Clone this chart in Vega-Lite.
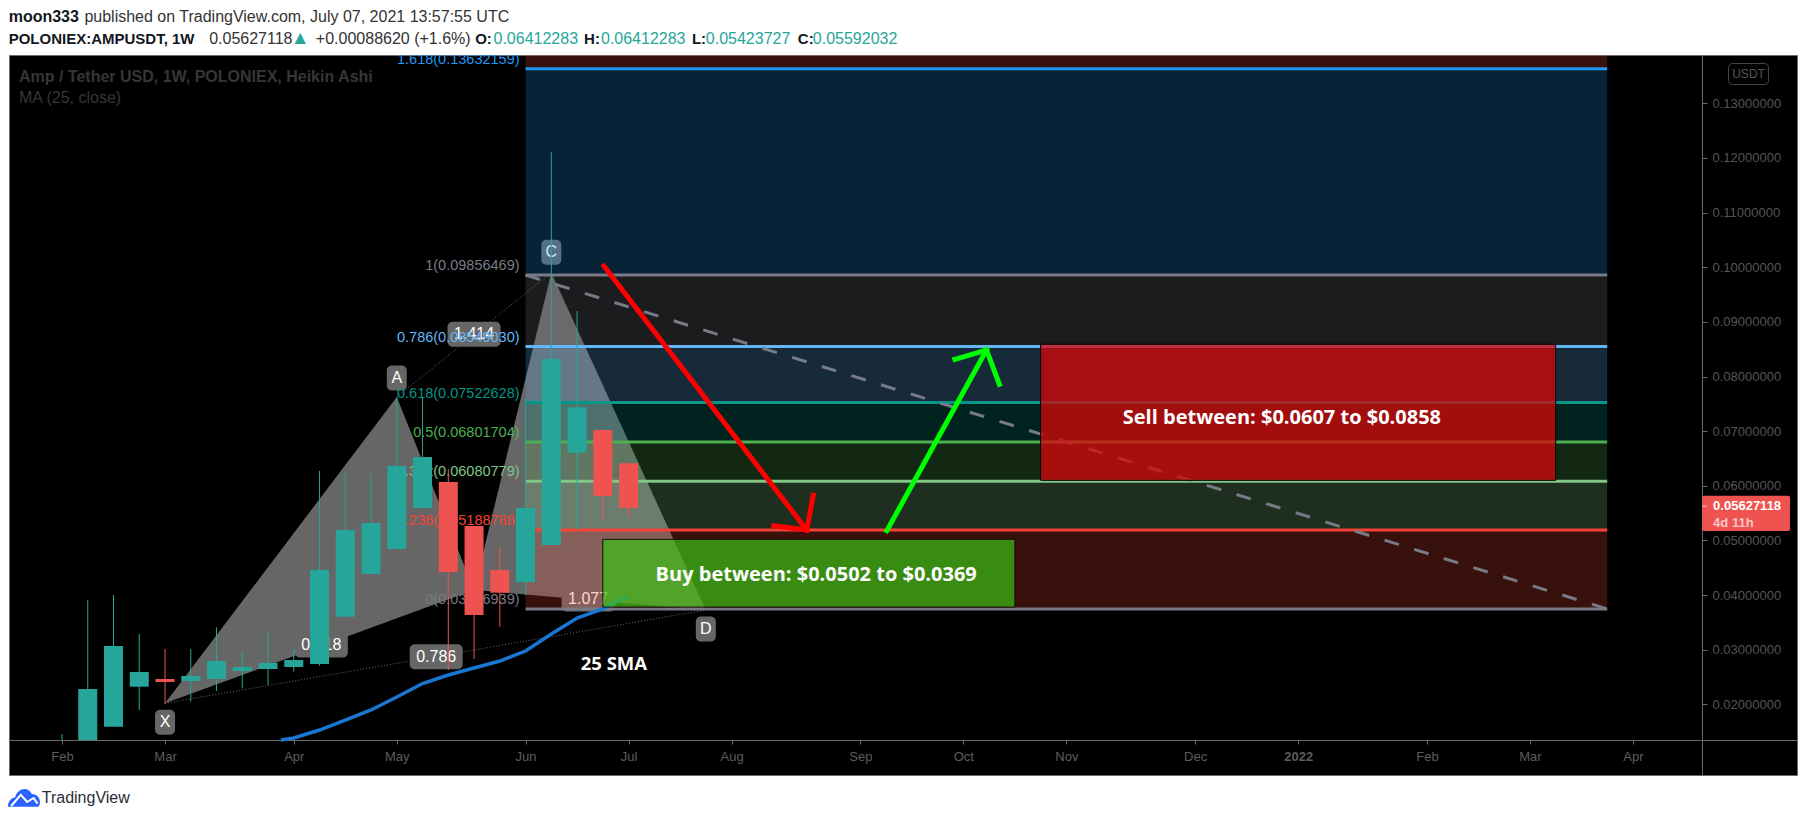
{
"$schema":"https://vega.github.io/schema/vega-lite/v6.json",
"width":1788,"height":720,
"autosize":"none",
"padding":{"left":9,"top":55,"right":8,"bottom":47},
"background":"#ffffff",
"view":{"fill":"#000000","stroke":"#6a6a6a"},
"config":{"font":"Liberation Sans","text":{"font":"Liberation Sans"}},
"encoding":{
 "x":{"field":"date","type":"temporal","scale":{"type":"utc","nice":false,"padding":0,"domain":[1610892921600,1652882976000]},
  "axis":{"orient":"bottom","offset":-35,"title":null,"grid":false,"domainColor":"#6a6a6a","tickColor":"#6a6a6a","tickSize":4,"labelPadding":6,"labelFont":"Liberation Sans","labelFontSize":13,"labelColor":"#5d5d5d","labelOverlap":false,"labelFlush":false,
   "values":[1612137600000,1614556800000,1617580800000,1620000000000,1623024000000,1625443200000,1627862400000,1630886400000,1633305600000,1635724800000,1638748800000,1641168000000,1644192000000,1646611200000,1649030400000],
   "labelExpr":"utcmonth(datum.value)===0?utcFormat(datum.value,'%Y'):utcFormat(datum.value,'%b')",
   "labelFontWeight":{"condition":{"test":"utcmonth(datum.value)===0","value":"bold"},"value":"normal"}}},
 "y":{"field":"price","type":"quantitative","scale":{"domain":[0.00707,0.13884],"nice":false,"zero":false},
  "axis":{"orient":"right","offset":-95,"title":null,"grid":false,"domainColor":"#6a6a6a","tickColor":"#6a6a6a","tickSize":5,"labelPadding":5,"labelFont":"Liberation Sans","labelFontSize":13,"labelColor":"#555555","format":".8f","labelOverlap":false,"labelFlush":false,
   "values":[0.02,0.03,0.04,0.05,0.06,0.07,0.08,0.09,0.10,0.11,0.12,0.13]}},
 "color":{"field":"level","type":"nominal","legend":null,"scale":{"domain":["2.618","1.618","1","0.786","0.618","0.5","0.382","0.236","0","up","down"],"range":["#f44336","#2196f3","#787b86","#64b5f6","#009688","#4caf50","#81c784","#f44336","#787b86","#26a69a","#ef5350"]}}
},
"layer":[
 {"data":{"values":[{"date":"2021-03-01","price":0.0202,"price2":0.0202,"leg":"XAB"},{"date":"2021-05-03","price":0.07625,"price2":0.03575,"leg":"XAB"},{"date":"2021-05-24","price":0.04093,"price2":0.04093,"leg":"XAB"},{"date":"2021-05-24","price":0.04093,"price2":0.04093,"leg":"BCD"},{"date":"2021-06-14","price":0.0990,"price2":0.03971,"leg":"BCD"},{"date":"2021-07-26","price":0.03727,"price2":0.03727,"leg":"BCD"}],"format":{"parse":{"date":"date"}}},
  "mark":{"type":"area","color":"#666666","line":false,"opacity":1},
  "encoding":{"y2":{"field":"price2"},"detail":{"field":"leg"},"color":{"value":"#666666"}}},
 {"data":{"values":[{"date":"2021-03-01","price":0.0202,"date2":"2021-07-26","price2":0.03727},{"date":"2021-05-03","price":0.07625,"date2":"2021-06-14","price2":0.0990}],"format":{"parse":{"date":"date","date2":"date"}}},
  "mark":{"type":"rule","strokeDash":[1,2],"strokeWidth":1},
  "encoding":{"x2":{"field":"date2"},"y2":{"field":"price2"},"color":{"value":"#6a6a6a"}}},
 {"data":{"values":[{"date":"2021-05-03","price":0.07973,"label":"A"},{"date":"2021-06-14","price":0.10273,"label":"C"},{"date":"2021-03-01","price":0.01671,"label":"X"},{"date":"2021-07-26","price":0.03379,"label":"D"}],"format":{"parse":{"date":"date"}}},
  "layer":[
   {"mark":{"type":"rect","width":20,"height":25,"cornerRadius":5},"encoding":{"color":{"value":"#666666"}}},
   {"mark":{"type":"text","fontSize":16,"baseline":"middle","align":"center"},"encoding":{"text":{"field":"label"},"color":{"value":"#ffffff"}}}
  ]},
 {"data":{"values":[{"date":"2021-05-24","price":0.08772,"label":"1.414"},{"date":"2021-04-12T12:00:00Z","price":0.03086,"label":"0.618"},{"date":"2021-05-13T17:00:00Z","price":0.02872,"label":"0.786"},{"date":"2021-06-24","price":0.03928,"label":"1.077"}],"format":{"parse":{"date":"date"}}},
  "layer":[
   {"mark":{"type":"rect","width":53,"height":25,"cornerRadius":5},"encoding":{"color":{"value":"#666666"}}},
   {"mark":{"type":"text","fontSize":16,"baseline":"middle","align":"center"},"encoding":{"text":{"field":"label"},"color":{"value":"#ffffff"}}}
  ]},
 {"data":{"values":[
   {"level":"2.618","date":"2021-06-07","date2":"2022-03-28","price":0.13884,"price2":0.13632159,"label":""},
   {"level":"1.618","date":"2021-06-07","date2":"2022-03-28","price":0.13632159,"price2":0.09856469,"label":"1.618(0.13632159)"},
   {"level":"1","date":"2021-06-07","date2":"2022-03-28","price":0.09856469,"price2":0.0854903,"label":"1(0.09856469)"},
   {"level":"0.786","date":"2021-06-07","date2":"2022-03-28","price":0.0854903,"price2":0.07522628,"label":"0.786(0.08549030)"},
   {"level":"0.618","date":"2021-06-07","date2":"2022-03-28","price":0.07522628,"price2":0.06801704,"label":"0.618(0.07522628)"},
   {"level":"0.5","date":"2021-06-07","date2":"2022-03-28","price":0.06801704,"price2":0.06080779,"label":"0.5(0.06801704)"},
   {"level":"0.382","date":"2021-06-07","date2":"2022-03-28","price":0.06080779,"price2":0.05188788,"label":"0.382(0.06080779)"},
   {"level":"0.236","date":"2021-06-07","date2":"2022-03-28","price":0.05188788,"price2":0.03746939,"label":"0.236(0.05188788)"},
   {"level":"0","date":"2021-06-07","date2":"2022-03-28","price":0.03746939,"price2":0.03746939,"label":"0(0.03746939)"}
  ],"format":{"parse":{"date":"date","date2":"date"}}},
  "layer":[
   {"mark":{"type":"rect","opacity":0.23},"encoding":{"x2":{"field":"date2"},"y2":{"field":"price2"}}},
   {"transform":[{"filter":"datum.level!=='2.618'"}],"mark":{"type":"rule","strokeWidth":3},"encoding":{"x2":{"field":"date2"}}},
   {"transform":[{"filter":"datum.level!=='2.618'"}],"mark":{"type":"text","align":"right","baseline":"middle","dy":-9,"dx":-6,"fontSize":14.5,"clip":true},"encoding":{"text":{"field":"label"}}}
  ]},
 {"data":{"values":[{"date":"2021-06-07","price":0.09856469,"date2":"2022-03-28","price2":0.03746939}],"format":{"parse":{"date":"date","date2":"date"}}},
  "mark":{"type":"rule","strokeDash":[15,16],"strokeWidth":3},
  "encoding":{"x2":{"field":"date2"},"y2":{"field":"price2"},"color":{"value":"#787b86"}}},
 {"data":{"values":[
   {"date":"2021-02-01","level":"up","price":0.01457,"price2":0.01347},
   {"date":"2021-02-08","level":"up","price":0.0391,"price2":0.01347},
   {"date":"2021-02-15","level":"up","price":0.04001,"price2":0.01591},
   {"date":"2021-02-22","level":"up","price":0.03287,"price2":0.01897},
   {"date":"2021-03-01","level":"down","price":0.03013,"price2":0.02001},
   {"date":"2021-03-08","level":"up","price":0.03013,"price2":0.02049},
   {"date":"2021-03-15","level":"up","price":0.0341,"price2":0.02244},
   {"date":"2021-03-22","level":"up","price":0.02971,"price2":0.02294},
   {"date":"2021-03-29","level":"up","price":0.03324,"price2":0.02354},
   {"date":"2021-04-05","level":"up","price":0.03013,"price2":0.02597},
   {"date":"2021-04-12","level":"up","price":0.0627,"price2":0.02707},
   {"date":"2021-04-19","level":"up","price":0.0627,"price2":0.03604},
   {"date":"2021-04-26","level":"up","price":0.06228,"price2":0.04385},
   {"date":"2021-05-03","level":"up","price":0.07625,"price2":0.04843},
   {"date":"2021-05-10","level":"up","price":0.07625,"price2":0.05593},
   {"date":"2021-05-17","level":"down","price":0.06307,"price2":0.02628},
   {"date":"2021-05-24","level":"down","price":0.05264,"price2":0.0283},
   {"date":"2021-05-31","level":"down","price":0.04898,"price2":0.03421},
   {"date":"2021-06-07","level":"up","price":0.076,"price2":0.03996},
   {"date":"2021-06-14","level":"up","price":0.12103,"price2":0.04916},
   {"date":"2021-06-21","level":"up","price":0.09199,"price2":0.05191},
   {"date":"2021-06-28","level":"down","price":0.07021,"price2":0.05374},
   {"date":"2021-07-05","level":"down","price":0.06412283,"price2":0.05423727}
  ],"format":{"parse":{"date":"date"}}},
  "mark":{"type":"rule","strokeWidth":1},
  "encoding":{"y2":{"field":"price2"}}},
 {"data":{"values":[
   {"date":"2021-02-08","level":"up","price":0.02281,"price2":0.01347},
   {"date":"2021-02-15","level":"up","price":0.03068,"price2":0.01591},
   {"date":"2021-02-22","level":"up","price":0.02592,"price2":0.02323},
   {"date":"2021-03-01","level":"down","price":0.02464,"price2":0.02409},
   {"date":"2021-03-08","level":"up","price":0.02519,"price2":0.02427},
   {"date":"2021-03-15","level":"up","price":0.02793,"price2":0.02464},
   {"date":"2021-03-22","level":"up","price":0.02684,"price2":0.0261},
   {"date":"2021-03-29","level":"up","price":0.02757,"price2":0.02647},
   {"date":"2021-04-05","level":"up","price":0.02811,"price2":0.02684},
   {"date":"2021-04-12","level":"up","price":0.04459,"price2":0.02738},
   {"date":"2021-04-19","level":"up","price":0.05191,"price2":0.03604},
   {"date":"2021-04-26","level":"up","price":0.05319,"price2":0.04385},
   {"date":"2021-05-03","level":"up","price":0.06362,"price2":0.04843},
   {"date":"2021-05-10","level":"up","price":0.06527,"price2":0.05593},
   {"date":"2021-05-17","level":"down","price":0.06069,"price2":0.04422},
   {"date":"2021-05-24","level":"down","price":0.05264,"price2":0.03635},
   {"date":"2021-05-31","level":"down","price":0.04459,"price2":0.04043},
   {"date":"2021-06-07","level":"up","price":0.05593,"price2":0.04239},
   {"date":"2021-06-14","level":"up","price":0.0832,"price2":0.04916},
   {"date":"2021-06-21","level":"up","price":0.07436,"price2":0.06605},
   {"date":"2021-06-28","level":"down","price":0.07021,"price2":0.05813},
   {"date":"2021-07-05","level":"down","price":0.06412283,"price2":0.05592032}
  ],"format":{"parse":{"date":"date"}}},
  "mark":{"type":"bar","width":19},
  "encoding":{"y2":{"field":"price2"}}},
 {"data":{"values":[
   {"date":"2021-04-01T12:00:00Z","price":0.01347},{"date":"2021-04-05","price":0.01384},{"date":"2021-04-12","price":0.0153},{"date":"2021-04-19","price":0.01713},{"date":"2021-04-26","price":0.01897},{"date":"2021-05-03","price":0.02134},{"date":"2021-05-10","price":0.02381},{"date":"2021-05-17","price":0.02537},{"date":"2021-05-24","price":0.02665},{"date":"2021-05-31","price":0.02793},{"date":"2021-06-07","price":0.02976},{"date":"2021-06-14","price":0.03287},{"date":"2021-06-21","price":0.0358},{"date":"2021-06-28","price":0.03745},{"date":"2021-07-05","price":0.03983}
  ],"format":{"parse":{"date":"date"}}},
  "mark":{"type":"line","strokeWidth":3.5},
  "encoding":{"color":{"value":"#1976d2"}}},
 {"data":{"values":[
   {"date":"2021-06-28T07:00:00Z","price":0.10022,"date2":"2021-08-22T10:00:00Z","price2":0.05191},
   {"date":"2021-08-24T05:00:00Z","price":0.05826,"date2":"2021-08-22T10:00:00Z","price2":0.05191},
   {"date":"2021-08-13T12:00:00Z","price":0.05269,"date2":"2021-08-22T10:00:00Z","price2":0.05191}
  ],"format":{"parse":{"date":"date","date2":"date"}}},
  "mark":{"type":"rule","strokeWidth":5,"strokeCap":"square"},
  "encoding":{"x2":{"field":"date2"},"y2":{"field":"price2"},"color":{"value":"#ff0000"}}},
 {"data":{"values":[
   {"date":"2021-09-13T05:00:00Z","price":0.05178,"date2":"2021-10-10T07:00:00Z","price2":0.08485},
   {"date":"2021-10-01T17:00:00Z","price":0.08315,"date2":"2021-10-10T07:00:00Z","price2":0.08485},
   {"date":"2021-10-13T19:00:00Z","price":0.07857,"date2":"2021-10-10T07:00:00Z","price2":0.08485}
  ],"format":{"parse":{"date":"date","date2":"date"}}},
  "mark":{"type":"rule","strokeWidth":5,"strokeCap":"square"},
  "encoding":{"x2":{"field":"date2"},"y2":{"field":"price2"},"color":{"value":"#00ff00"}}},
 {"data":{"values":[{"date":"2021-10-25","date2":"2022-03-14","price":0.0859,"price2":0.061}],"format":{"parse":{"date":"date","date2":"date"}}},
  "mark":{"type":"rect","stroke":"#000000","strokeWidth":1,"fillOpacity":0.75},
  "encoding":{"x2":{"field":"date2"},"y2":{"field":"price2"},"color":{"value":"#d80709"}}},
 {"data":{"values":[{"date":"2021-06-28","date2":"2021-10-18","price":0.0502,"price2":0.0378}],"format":{"parse":{"date":"date","date2":"date"}}},
  "mark":{"type":"rect","stroke":"#1a0a08","strokeWidth":1,"fillOpacity":0.7},
  "encoding":{"x2":{"field":"date2"},"y2":{"field":"price2"},"color":{"value":"#39c214"}}},
 {"data":{"values":[
   {"date":"2021-08-25","price":0.04367,"label":"Buy between: $0.0502 to $0.0369"},
   {"date":"2021-12-29T14:00:00Z","price":0.0724,"label":"Sell between: $0.0607 to $0.0858"}
  ],"format":{"parse":{"date":"date"}}},
  "mark":{"type":"text","font":"Open Sans","fontWeight":"bold","fontSize":20,"align":"center","baseline":"middle"},
  "encoding":{"text":{"field":"label"},"color":{"value":"#ffffff"}}},
 {"data":{"values":[{"date":"2021-07-01","price":0.02738,"label":"25 SMA"}],"format":{"parse":{"date":"date"}}},
  "mark":{"type":"text","font":"Open Sans","fontWeight":"bold","fontSize":18.5,"align":"center","baseline":"middle"},
  "encoding":{"text":{"field":"label"},"color":{"value":"#ffffff"}}},
 {"data":{"values":[{"date":"2021-01-17T12:00:00Z","price":0.14585,"label":"moon333"}],"format":{"parse":{"date":"date"}}},
  "mark":{"type":"text","fontWeight":"bold","fontSize":16,"align":"left","baseline":"middle"},
  "encoding":{"text":{"field":"label"},"color":{"value":"#131722"}}},
 {"data":{"values":[
   {"date":"2021-01-17T12:00:00Z","price":0.14182,"label":"POLONIEX:AMPUSDT, 1W"},
   {"date":"2021-05-24T07:00:00Z","price":0.14182,"label":"O:"},
   {"date":"2021-06-22T22:00:00Z","price":0.14182,"label":"H:"},
   {"date":"2021-07-22T05:00:00Z","price":0.14182,"label":"L:"},
   {"date":"2021-08-20","price":0.14182,"label":"C:"}
  ],"format":{"parse":{"date":"date"}}},
  "mark":{"type":"text","fontWeight":"bold","fontSize":15,"align":"left","baseline":"middle"},
  "encoding":{"text":{"field":"label"},"color":{"value":"#131722"}}},
 {"data":{"values":[
   {"date":"2021-02-07T02:00:00Z","price":0.14585,"label":"published on TradingView.com, July 07, 2021 13:57:55 UTC"},
   {"date":"2021-03-13","price":0.14182,"label":"0.05627118"},
   {"date":"2021-04-11","price":0.14182,"label":"+0.00088620 (+1.6%)"}
  ],"format":{"parse":{"date":"date"}}},
  "mark":{"type":"text","fontSize":16,"align":"left","baseline":"middle"},
  "encoding":{"text":{"field":"label"},"color":{"value":"#333333"}}},
 {"data":{"values":[{"date":"2021-04-06T17:00:00Z","price":0.14192,"label":"▲"}],"format":{"parse":{"date":"date"}}},
  "mark":{"type":"text","fontSize":19,"baseline":"middle","align":"center"},
  "encoding":{"text":{"field":"label"},"color":{"value":"#26a69a"}}},
 {"data":{"values":[
   {"date":"2021-05-29T07:00:00Z","price":0.14182,"label":"0.06412283"},
   {"date":"2021-06-27T12:00:00Z","price":0.14182,"label":"0.06412283"},
   {"date":"2021-07-26","price":0.14182,"label":"0.05423727"},
   {"date":"2021-08-24T02:00:00Z","price":0.14182,"label":"0.05592032"}
  ],"format":{"parse":{"date":"date"}}},
  "mark":{"type":"text","fontSize":16,"baseline":"middle","align":"left"},
  "encoding":{"text":{"field":"label"},"color":{"value":"#26a69a"}}},
 {"data":{"values":[{"date":"2021-01-20T07:00:00Z","price":0.13481,"label":"Amp / Tether USD, 1W, POLONIEX, Heikin Ashi"}],"format":{"parse":{"date":"date"}}},
  "mark":{"type":"text","fontWeight":"bold","fontSize":16,"align":"left","baseline":"middle"},
  "encoding":{"text":{"field":"label"},"color":{"value":"#363636"}}},
 {"data":{"values":[{"date":"2021-01-20T07:00:00Z","price":0.13097,"label":"MA (25, close)"}],"format":{"parse":{"date":"date"}}},
  "mark":{"type":"text","fontSize":16,"align":"left","baseline":"middle"},
  "encoding":{"text":{"field":"label"},"color":{"value":"#363636"}}},
 {"data":{"values":[{"date":"2022-05-05T10:00:00Z","price":0.13536,"label":"USDT"}],"format":{"parse":{"date":"date"}}},
  "layer":[
   {"mark":{"type":"rect","width":40,"height":21,"cornerRadius":4,"fill":"#000000","stroke":"#434651","strokeWidth":1},"encoding":{"color":{"value":"#000000"}}},
   {"mark":{"type":"text","fontSize":12,"align":"center","baseline":"middle"},"encoding":{"text":{"field":"label"},"color":{"value":"#555555"}}}
  ]},
 {"data":{"values":[{"date":"2022-04-22T19:00:00Z","date2":"2022-05-16T17:00:00Z","price":0.05819,"price2":0.05173}],"format":{"parse":{"date":"date","date2":"date"}}},
  "mark":{"type":"rect","cornerRadius":2},
  "encoding":{"x2":{"field":"date2"},"y2":{"field":"price2"},"color":{"value":"#ef5350"}}},
 {"data":{"values":[{"date":"2022-04-22T19:00:00Z","date2":"2022-04-24T03:00:00Z","price":0.05627118}],"format":{"parse":{"date":"date","date2":"date"}}},
  "mark":{"type":"rule","strokeWidth":1},
  "encoding":{"x2":{"field":"date2"},"color":{"value":"#f9c7c5"}}},
 {"data":{"values":[{"date":"2022-04-25T19:00:00Z","price":0.0563,"label":"0.05627118"}],"format":{"parse":{"date":"date"}}},
  "mark":{"type":"text","fontSize":13,"fontWeight":"bold","align":"left","baseline":"middle"},
  "encoding":{"text":{"field":"label"},"color":{"value":"#ffffff"}}},
 {"data":{"values":[{"date":"2022-04-25T19:00:00Z","price":0.05325,"label":"4d 11h"}],"format":{"parse":{"date":"date"}}},
  "mark":{"type":"text","fontSize":13,"fontWeight":"bold","align":"left","baseline":"middle"},
  "encoding":{"text":{"field":"label"},"color":{"value":"#f9c7c5"}}},
 {"data":{"values":[{"date":"2021-01-21T16:00:00Z","price":0.00286}],"format":{"parse":{"date":"date"}}},
  "mark":{"type":"point","filled":true,"size":1024,"opacity":1,"shape":"M-1 .55C-1 .2-.8 0-.55-.05C-.45-.4-.15-.6.1-.55C.3-.55.4-.4.5-.25C.8-.25 1 0 1 .25C1 .4.95.5.9.55Z"},
  "encoding":{"color":{"value":"#2962ff"}}},
 {"data":{"values":[{"date":"2021-01-21T16:00:00Z","price":0.00286}],"format":{"parse":{"date":"date"}}},
  "mark":{"type":"point","filled":false,"size":1024,"opacity":1,"strokeWidth":2,"shape":"M-.8 .5L-.2-.2L.2.25L.6 0L.85.35"},
  "encoding":{"color":{"value":"#ffffff"}}},
 {"data":{"values":[{"date":"2021-01-26T12:00:00Z","price":0.00286,"label":"TradingView"}],"format":{"parse":{"date":"date"}}},
  "mark":{"type":"text","fontSize":16,"align":"left","baseline":"middle"},
  "encoding":{"text":{"field":"label"},"color":{"value":"#2a2e39"}}}
]
}
